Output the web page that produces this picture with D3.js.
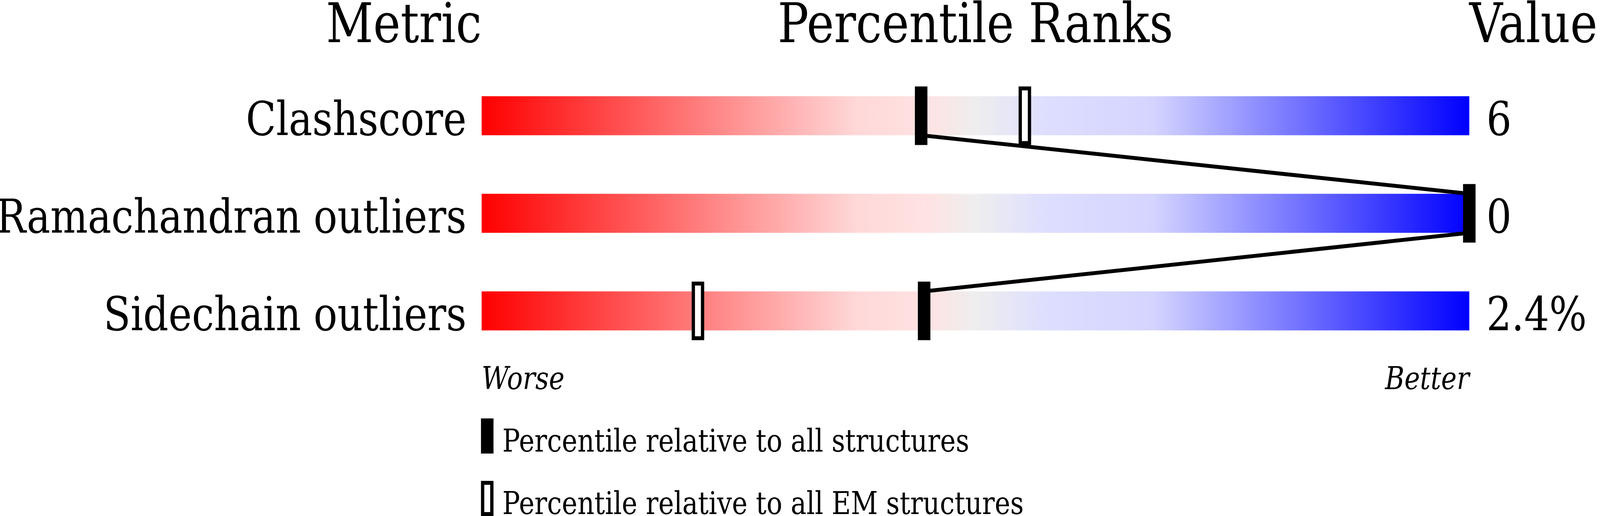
<!DOCTYPE html>
<html>
<head>
<meta charset="utf-8">
<script src="https://cdn.jsdelivr.net/npm/d3@7"></script>
<style>
    html, body { margin: 0; padding: 0; background: #fff; overflow: hidden; }
    svg { display: block; width: 100vw; height: 100vh; }
    text { font-family: "DejaVu Serif", serif; fill: #000; }
</style>
</head>
<body>
<div id="chart"></div>
<script>
// chart data
var metrics = ["Clashscore", "Ramachandran outliers", "Sidechain outliers"];
var percentileAll = [44.5, 100, 44.8];
var percentileEM = [55, null, 21.9];
var valueLabels = ["6", "0", "2.4%"];
var headers = ["Metric", "Percentile Ranks", "Value"];
var legendLabels = ["Percentile relative to all structures", "Percentile relative to all EM structures"];

var svgWidth = 4860;
var svgHeight = 1322;

var barLeft = 1463;
var barRight = 4463;
var barHeight = 100;
var markerWidth = 38;
var markerHeight = 150;

// the browser window is narrower than 4860, so draw in a 4860x1322 viewBox and stretch it to the page
var svg = d3.select("#chart")
    .append("svg")
    .attr("viewBox", `0 0 ${svgWidth} ${svgHeight}`)
    .attr("preserveAspectRatio", "none");

// Scales
var xScale = d3.scaleLinear()
    .domain([0, 100])
    .range([barLeft, barRight]);

var yScale = d3.scalePoint()
    .domain(metrics)
    .range([296.5, 796.5]);

// Gradient for the bars
var grad = svg.append("defs")
    .append("linearGradient")
    .attr("id", "rank")
    .attr("x1", "0%").attr("x2", "100%")
    .attr("y1", "0%").attr("y2", "0%");

var stops = [
    [0, "#ff0000"], [0.38, "#ffd8d8"], [0.45, "#ffe2e2"], [0.5, "#eeeeee"],
    [0.57, "#dedeff"], [0.68, "#d4d4ff"], [1, "#0000ff"]
];
grad.selectAll("stop")
    .data(stops)
    .enter()
    .append("stop")
    .attr("offset", d => d[0])
    .attr("stop-color", d => d[1]);

// Headers
svg.append("text")
    .attr("x", barLeft).attr("y", 108)
    .attr("text-anchor", "end")
    .style("font-size", "140px")
    .text(headers[0]);

svg.append("text")
    .attr("x", (barLeft + barRight) / 2).attr("y", 108)
    .attr("text-anchor", "middle")
    .style("font-size", "140px")
    .text(headers[1]);

svg.append("text")
    .attr("x", barRight).attr("y", 108)
    .attr("text-anchor", "start")
    .style("font-size", "140px")
    .text(headers[2]);

// Bars
svg.selectAll("rect.bar")
    .data(metrics)
    .enter()
    .append("rect")
    .classed("bar", true)
    .attr("x", xScale(0))
    .attr("y", d => yScale(d) - barHeight / 2)
    .attr("width", xScale(100) - xScale(0))
    .attr("height", barHeight)
    .attr("fill", "url(#rank)");

// Row labels and values
svg.selectAll("text.metric")
    .data(metrics)
    .enter()
    .append("text")
    .classed("metric", true)
    .attr("x", barLeft - 46)
    .attr("y", d => yScale(d) + 50)
    .attr("text-anchor", "end")
    .style("font-size", "120px")
    .text(d => d);

svg.selectAll("text.value")
    .data(valueLabels)
    .enter()
    .append("text")
    .classed("value", true)
    .attr("x", barRight + 52)
    .attr("y", (d, i) => yScale(metrics[i]) + 50)
    .style("font-size", "120px")
    .text(d => d);

// Connecting lines between the "all structures" markers
var lines = [];
for (var i = 0; i < metrics.length - 1; i++) {
    lines.push({
        x1: xScale(percentileAll[i]), y1: yScale(metrics[i]) + barHeight / 2,
        x2: xScale(percentileAll[i + 1]), y2: yScale(metrics[i + 1]) - barHeight / 2
    });
}
svg.selectAll("line.link")
    .data(lines)
    .enter()
    .append("line")
    .classed("link", true)
    .attr("x1", d => d.x1).attr("y1", d => d.y1)
    .attr("x2", d => d.x2).attr("y2", d => d.y2)
    .attr("stroke", "#000")
    .attr("stroke-width", 10);

// EM markers (hollow)
var emData = metrics.map((m, i) => ({ metric: m, p: percentileEM[i] })).filter(d => d.p !== null);
svg.selectAll("rect.em")
    .data(emData)
    .enter()
    .append("rect")
    .classed("em", true)
    .attr("x", d => xScale(d.p) - markerWidth / 2 + 5)
    .attr("y", d => yScale(d.metric) - markerHeight / 2 + 5)
    .attr("width", markerWidth - 10)
    .attr("height", markerHeight - 10)
    .attr("fill", "#fff")
    .attr("stroke", "#000")
    .attr("stroke-width", 10);

// All-structures markers (solid)
svg.selectAll("rect.all")
    .data(metrics)
    .enter()
    .append("rect")
    .classed("all", true)
    .attr("x", (d, i) => xScale(percentileAll[i]) - markerWidth / 2)
    .attr("y", d => yScale(d) - markerHeight / 2)
    .attr("width", markerWidth)
    .attr("height", markerHeight)
    .attr("fill", "#000");

// Worse / Better
svg.append("text")
    .attr("x", barLeft).attr("y", 997)
    .style("font-size", "80px")
    .style("font-style", "italic")
    .text("Worse");

svg.append("text")
    .attr("x", barRight).attr("y", 997)
    .attr("text-anchor", "end")
    .style("font-size", "80px")
    .style("font-style", "italic")
    .text("Better");

// Legend
var legend = svg.selectAll("g.legend")
    .data(legendLabels)
    .enter()
    .append("g")
    .classed("legend", true)
    .attr("transform", (d, i) => `translate(${barLeft - 2}, ${1072 + 160 * i})`);

legend.append("rect")
    .attr("x", (d, i) => i === 0 ? 0 : 5)
    .attr("y", (d, i) => i === 0 ? 0 : 5)
    .attr("width", (d, i) => i === 0 ? markerWidth : markerWidth - 10)
    .attr("height", (d, i) => i === 0 ? 90 : 80)
    .attr("fill", (d, i) => i === 0 ? "#000" : "#fff")
    .attr("stroke", (d, i) => i === 0 ? "none" : "#000")
    .attr("stroke-width", 10);

legend.append("text")
    .attr("x", 65)
    .attr("y", 85)
    .style("font-size", "80px")
    .text(d => d);
</script>
</body>
</html>
